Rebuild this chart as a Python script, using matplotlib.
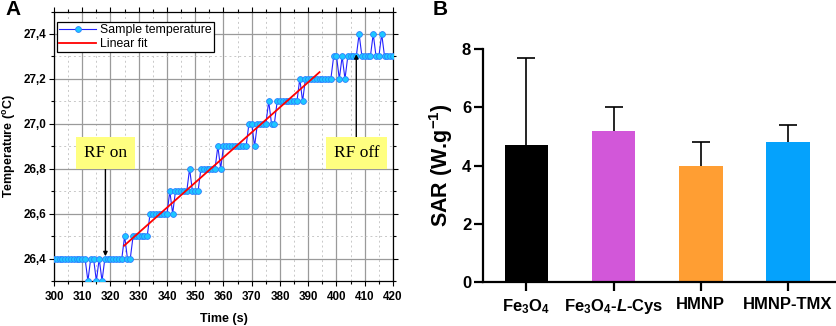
import matplotlib
matplotlib.use("Agg")
import matplotlib.pyplot as plt
from matplotlib.ticker import MultipleLocator

plt.rcParams['font.family'] = ['Liberation Sans', 'DejaVu Sans']
plt.rcParams['mathtext.fontset'] = 'custom'
plt.rcParams['mathtext.rm'] = 'Liberation Sans:bold'
plt.rcParams['mathtext.it'] = 'Liberation Sans:italic:bold'
plt.rcParams['mathtext.bf'] = 'Liberation Sans:bold'
plt.rcParams['mathtext.default'] = 'rm'

# ---------------- Panel A data ----------------
time_s = list(range(300, 421))
sample_temp = [
    26.4, 26.4, 26.4, 26.4, 26.4, 26.4, 26.4, 26.4, 26.4, 26.4,  # 300-309
    26.4, 26.4, 26.3, 26.4, 26.4, 26.3, 26.4, 26.3, 26.4, 26.4,  # 310-319
    26.4, 26.4, 26.4, 26.4, 26.4, 26.5, 26.4, 26.4, 26.5, 26.5,  # 320-329
    26.5, 26.5, 26.5, 26.5, 26.6, 26.6, 26.6, 26.6, 26.6, 26.6,  # 330-339
    26.6, 26.7, 26.6, 26.7, 26.7, 26.7, 26.7, 26.7, 26.8, 26.7,  # 340-349
    26.7, 26.7, 26.8, 26.8, 26.8, 26.8, 26.8, 26.8, 26.9, 26.8,  # 350-359
    26.9, 26.9, 26.9, 26.9, 26.9, 26.9, 26.9, 26.9, 26.9, 27.0,  # 360-369
    27.0, 26.9, 27.0, 27.0, 27.0, 27.0, 27.1, 27.0, 27.0, 27.1,  # 370-379
    27.1, 27.1, 27.1, 27.1, 27.1, 27.1, 27.1, 27.2, 27.1, 27.2,  # 380-389
    27.2, 27.2, 27.2, 27.2, 27.2, 27.2, 27.2, 27.2, 27.2, 27.3,  # 390-399
    27.3, 27.2, 27.3, 27.2, 27.3, 27.3, 27.3, 27.3, 27.4, 27.3,  # 400-409
    27.3, 27.3, 27.3, 27.4, 27.3, 27.3, 27.4, 27.3, 27.3, 27.3,  # 410-419
    27.3,                                                        # 420
]
fit_time = [324.8, 394.0]
fit_temp = [26.457, 27.23]
x_ticks_a = [300, 310, 320, 330, 340, 350, 360, 370, 380, 390, 400, 410, 420]
y_ticks_a = [26.4, 26.6, 26.8, 27.0, 27.2, 27.4]
y_tick_labels_a = ['26,4', '26,6', '26,8', '27,0', '27,2', '27,4']
rf_on_time, rf_on_temp = 318.2, 26.41
rf_off_time, rf_off_temp = 407.0, 27.31

# ---------------- Panel B data ----------------
categories = [r'Fe$_3$O$_4$', r'Fe$_3$O$_4$-$\mathit{L}$-Cys', 'HMNP', 'HMNP-TMX']
sar_values = [4.7, 5.2, 4.0, 4.8]
sar_errors = [3.0, 0.8, 0.8, 0.6]
bar_colors = ['#000000', '#D257D9', '#FF9E33', '#05A2FC']

fig = plt.figure(figsize=(8.37, 3.26), dpi=100)

# ======== Panel A ========
axA = fig.add_axes([54/837, 45/326, 339/837, 269.5/326])
axA.plot(time_s, sample_temp, color='#2222ff', lw=0.8, marker='o', ms=4.2,
         mfc='#1ec8ff', mec='#2a7fff', mew=0.6, label='Sample temperature', zorder=3)
axA.plot(fit_time, fit_temp, color='#ff0000', lw=1.3, label='Linear fit', zorder=4)
axA.set_xlim(300, 420)
axA.set_ylim(26.3, 27.5)
axA.set_xticks(x_ticks_a)
axA.set_yticks(y_ticks_a)
axA.set_yticklabels(y_tick_labels_a)
axA.xaxis.set_minor_locator(MultipleLocator(5))
axA.yaxis.set_minor_locator(MultipleLocator(0.1))
axA.grid(which='major', color='#9a9a9a', lw=0.9, ls='-', zorder=0)
axA.grid(which='minor', color='#c8c8c8', lw=0.7, ls=(0, (2, 3)), zorder=0)
axA.set_axisbelow(True)
axA.tick_params(which='both', direction='out', top=True, right=True,
                labelsize=8.4, width=0.8)
axA.tick_params(axis='x', pad=4)
axA.tick_params(axis='y', pad=2)
axA.tick_params(which='major', length=3.5)
axA.tick_params(which='minor', length=2.5)
for lab in axA.get_xticklabels() + axA.get_yticklabels():
    lab.set_fontweight('bold')
for s in axA.spines.values():
    s.set_linewidth(0.9)
axA.set_xlabel('Time (s)', fontsize=9, fontweight='bold', labelpad=7)
axA.set_ylabel(r'Temperature ($^{o}$C)', fontsize=9, fontweight='bold', labelpad=4)
leg = axA.legend(loc='upper left', bbox_to_anchor=(0.009, 0.962), borderaxespad=0,
                 fontsize=8.8, frameon=True, fancybox=False, edgecolor='black',
                 framealpha=1, handlelength=3.0, numpoints=1, borderpad=0.2,
                 labelspacing=0.15, handletextpad=0.3)
leg.get_frame().set_linewidth(0.9)

box_style = dict(boxstyle='square,pad=0.45', fc='#ffff80', ec='none')
arrow_style = dict(arrowstyle='-|>', color='black', lw=1.0, mutation_scale=6,
                   shrinkA=0, shrinkB=0)
axA.annotate('RF on', xy=(rf_on_time, rf_on_temp), xytext=(rf_on_time, 26.87),
             ha='center', va='center', fontsize=12.5, family='Liberation Serif',
             bbox=box_style, arrowprops=arrow_style, zorder=6)
axA.annotate('RF off', xy=(rf_off_time, rf_off_temp), xytext=(rf_off_time, 26.87),
             ha='center', va='center', fontsize=12.5, family='Liberation Serif',
             bbox=box_style, arrowprops=arrow_style, zorder=6)

fig.text(5/837, 1 - 0/326, 'A', fontsize=15, fontweight='bold', va='top', ha='left')

# ======== Panel B ========
axB = fig.add_axes([482.7/837, 1 - 281.7/326, (835 - 482.7)/837, (281.7 - 49.3)/326])
xpos = list(range(len(categories)))
axB.bar(xpos, sar_values, width=0.5, color=bar_colors, zorder=2)
_, caps, _ = axB.errorbar(xpos, sar_values, yerr=[[0]*len(sar_errors), sar_errors],
                          fmt='none', ecolor='black', elinewidth=1.2, capsize=6.8,
                          capthick=1.2, zorder=1)
caps[0].set_visible(False)
axB.set_xlim(-0.5, 3.54)
axB.set_ylim(0, 8)
axB.set_yticks([0, 2, 4, 6, 8])
axB.set_xticks(xpos)
axB.set_xticklabels(categories)
axB.spines['top'].set_visible(False)
axB.spines['right'].set_visible(False)
axB.spines['left'].set_linewidth(1.6)
axB.spines['bottom'].set_linewidth(1.6)
axB.tick_params(axis='both', direction='out', length=6.3, width=1.6, labelsize=12)
axB.tick_params(axis='x', pad=5)
axB.tick_params(axis='y', pad=2)
for lab in axB.get_xticklabels() + axB.get_yticklabels():
    lab.set_fontweight('bold')
axB.set_ylabel(r'SAR (W.g$^{-1}$)', fontsize=15.5, fontweight='bold', labelpad=5)

fig.text(433/837, 1 - 0/326, 'B', fontsize=15, fontweight='bold', va='top', ha='left')

fig.savefig('out.png', dpi=100)
